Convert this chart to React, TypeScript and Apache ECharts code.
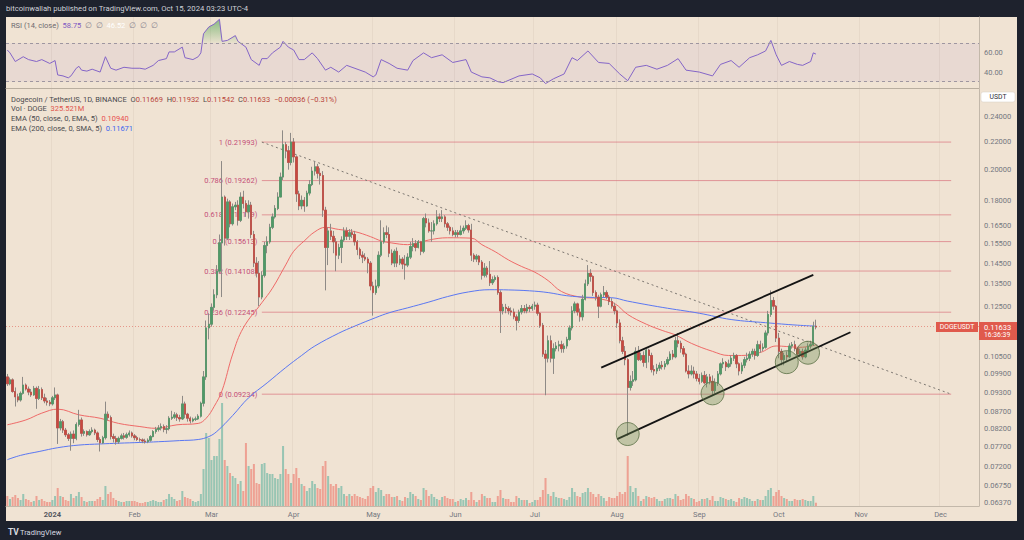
import React, { useEffect, useRef } from "react";
import * as echarts from "echarts";

// ---------- DATA (prices in 1/10000 USDT) ----------
const FIRST_OPEN = 980;
const AXIS_START = [2023, 11, 15];
const AXIS_DAYS = 367;

// daily candles: [close, high, low]
const candlesDec23 = [[957,990,950],[970,978,952],[932,975,928],[915,945,885],[905,925,898],[926,932,900],[953,980,922],[940,958,935],[930,948,920],[921,940,915],[942,950,918],[910,948,878],[938,950,905],[912,945,905],[902,925,895],[898,912,888],[893,905,886]];
const candlesJan24 = [[912,918,888],[921,945,905],[822,925,778],[840,848,815],[816,845,808],[803,822,797],[793,808,786],[805,812,760],[793,815,780],[832,838,788],[845,875,826],[807,852,798],[812,818,800],[803,815,798],[812,818,800],[816,824,807],[808,820,802],[790,812,783],[781,796,758],[795,800,778],[862,900,790],[852,870,843],[798,858,790],[793,806,782],[784,800,776],[793,798,778],[800,806,790],[796,808,790],[803,809,792],[808,815,798],[800,812,795]];
const candlesFeb24 = [[795,805,788],[790,800,786],[789,795,784],[786,793,780],[784,792,779],[788,793,780],[798,802,784],[812,816,796],[818,825,806],[822,830,812],[826,835,815],[818,832,810],[820,830,806],[850,856,815],[853,872,845],[860,868,848],[852,866,842],[848,860,840],[893,918,845],[862,900,850],[850,866,840],[842,855,835],[847,852,838],[848,855,842],[856,862,845],[895,900,852],[980,1000,885],[1160,1190,970],[1175,1220,1115]];
const candlesMar24 = [[1245,1262,1165],[1300,1325,1232],[1410,1440,1285],[1555,1600,1400],[1820,2060,1290],[1580,1830,1540],[1790,1810,1570],[1660,1800,1640],[1760,1780,1650],[1770,1790,1740],[1680,1800,1650],[1820,1850,1670],[1780,1860,1750],[1730,1800,1700],[1770,1800,1690],[1600,1790,1580],[1450,1620,1430],[1400,1480,1380],[1290,1460,1250],[1390,1410,1280],[1540,1560,1380],[1560,1590,1500],[1640,1660,1550],[1700,1720,1630],[1750,1770,1690],[1820,1850,1740],[1950,1980,1820],[2180,2290,1930],[2135,2200,2080],[2050,2170,2000],[2200,2270,2030]];
const candlesApr24 = [[2090,2230,2050],[1840,2100,1790],[1765,1860,1740],[1800,1830,1745],[1765,1820,1730],[1845,1860,1760],[1900,1930,1830],[1990,2020,1890],[2020,2060,1960],[1975,2040,1940],[1960,2010,1900],[1740,1990,1700],[1530,1760,1320],[1620,1640,1440],[1590,1660,1570],[1560,1620,1500],[1490,1580,1410],[1530,1550,1470],[1570,1590,1450],[1620,1640,1560],[1590,1640,1570],[1610,1630,1570],[1600,1630,1580],[1560,1620,1540],[1520,1570,1490],[1490,1530,1470],[1480,1510,1450],[1470,1500,1460],[1450,1480,1400],[1340,1460,1320]];
const candlesMay24 = [[1310,1360,1210],[1340,1370,1300],[1490,1510,1330],[1560,1680,1480],[1610,1640,1550],[1600,1650,1580],[1500,1640,1480],[1450,1520,1440],[1510,1520,1430],[1450,1530,1430],[1470,1490,1440],[1445,1480,1420],[1440,1490,1370],[1480,1500,1430],[1535,1560,1470],[1550,1580,1510],[1530,1570,1510],[1560,1570,1525],[1510,1565,1490],[1690,1700,1500],[1665,1720,1640],[1620,1690,1610],[1620,1670,1560],[1660,1680,1600],[1700,1740,1650],[1690,1720,1670],[1700,1740,1670],[1660,1710,1640],[1640,1670,1620],[1620,1650,1600],[1600,1640,1590]];
const candlesJun24 = [[1610,1625,1585],[1600,1625,1585],[1620,1650,1595],[1635,1650,1605],[1650,1680,1625],[1625,1660,1610],[1490,1660,1460],[1470,1500,1455],[1485,1495,1455],[1455,1490,1440],[1390,1465,1370],[1425,1450,1380],[1395,1435,1380],[1355,1460,1340],[1370,1385,1345],[1380,1390,1360],[1310,1390,1300],[1230,1320,1140],[1245,1260,1215],[1240,1260,1220],[1230,1250,1215],[1225,1245,1210],[1205,1240,1195],[1190,1215,1150],[1225,1235,1180],[1240,1255,1215],[1230,1255,1220],[1245,1260,1220],[1240,1255,1225],[1250,1260,1230]];
const candlesJul24 = [[1255,1270,1235],[1220,1265,1210],[1170,1225,1160],[1060,1180,1050],[1045,1075,920],[1110,1130,1030],[1045,1130,1030],[1080,1100,990],[1090,1105,1070],[1095,1110,1070],[1080,1110,1065],[1090,1100,1065],[1115,1125,1080],[1160,1170,1110],[1230,1250,1150],[1260,1270,1220],[1225,1265,1210],[1205,1240,1185],[1280,1300,1190],[1350,1370,1275],[1400,1440,1340],[1385,1420,1360],[1310,1390,1295],[1290,1320,1275],[1250,1300,1200],[1300,1310,1245],[1310,1340,1290],[1290,1320,1280],[1270,1300,1255],[1250,1285,1240],[1230,1265,1215]];
const candlesAug24 = [[1180,1235,1160],[1110,1195,1100],[1070,1125,1060],[1040,1090,1020],[945,1045,800],[965,985,935],[970,1000,950],[1070,1085,965],[1040,1090,1035],[1055,1065,1035],[1030,1070,1015],[1075,1080,1010],[1055,1080,1030],[1005,1065,995],[1000,1020,985],[1010,1025,990],[1020,1030,1000],[1015,1035,1005],[1025,1035,1005],[1040,1050,1020],[1060,1070,1035],[1050,1075,1040],[1110,1125,1045],[1100,1140,1085],[1080,1110,1065],[1060,1090,1050],[1000,1065,995],[990,1020,975],[1000,1020,985],[990,1015,975],[975,1000,965]];
const candlesSep24 = [[965,990,955],[985,995,960],[960,1000,955],[980,990,945],[965,990,955],[935,985,918],[960,975,925],[990,1000,950],[1025,1030,985],[1030,1045,1010],[1015,1035,1000],[1025,1040,1010],[1045,1055,1015],[1055,1065,1035],[1025,1060,1010],[1000,1030,985],[1020,1030,990],[1040,1050,1010],[1045,1065,1030],[1060,1070,1035],[1070,1080,1050],[1055,1080,1040],[1095,1110,1050],[1080,1110,1065],[1085,1100,1070],[1140,1150,1080],[1215,1230,1130],[1275,1320,1205],[1250,1290,1235],[1120,1255,1105]];
const candlesOct24 = [[1070,1140,1045],[1040,1080,1020],[1055,1065,1020],[1050,1070,1035],[1090,1100,1045],[1095,1105,1080],[1080,1110,1070],[1060,1085,1050],[1070,1080,1050],[1050,1080,1040],[1075,1085,1045],[1090,1100,1065],[1095,1110,1080],[1166.9,1185,1090],[1163.3,1193.2,1154.2]];

// daily volume, in hundreds of millions of DOGE
const volumeDec23 = [10,7,9,11,8,6,12,7,6,4,5,10,6,7,5,4,4];
const volumeJan24 = [6,10,18,10,9,6,5,12,8,10,14,9,5,4,5,5,5,7,9,6,20,12,14,8,6,5,4,4,5,5,5];
const volumeFeb24 = [5,4,3,3,4,4,5,6,5,4,4,6,7,12,9,7,5,6,15,9,8,7,5,4,5,12,37,73,68];
const volumeMar24 = [46,50,50,67,103,46,40,33,30,28,22,25,15,63,40,37,42,23,22,42,43,33,32,32,28,27,32,60,37,32,23];
const volumeApr24 = [32,38,28,22,20,15,18,25,22,18,17,40,45,30,22,20,22,18,20,12,10,12,10,12,10,9,8,7,10,18];
const volumeMay24 = [20,14,18,16,10,12,12,9,9,10,6,5,9,8,14,12,10,7,6,18,16,10,12,9,7,6,9,10,8,7,7];
const volumeJun24 = [4,5,7,6,8,6,14,6,4,6,12,10,8,8,4,4,10,16,8,7,7,4,4,10,8,6,6,6,3,4];
const volumeJul24 = [6,6,9,16,28,12,10,14,9,8,8,7,6,9,18,14,10,9,13,14,18,14,12,9,12,10,8,5,9,8,8];
const volumeAug24 = [10,14,12,14,50,20,14,18,10,5,7,10,9,8,9,7,5,5,7,8,8,7,12,10,6,7,12,10,8,7,4];
const volumeSep24 = [5,7,7,8,6,10,5,5,9,8,7,6,7,5,4,8,7,9,8,7,5,5,7,6,6,10,16,18,10,14];
const volumeOct24 = [16,10,8,7,5,5,7,6,6,7,6,5,5,10,3.26];

// EMA 50 (read points)
const ema50Dates = ["2023-12-15","2023-12-22","2023-12-28","2024-01-03","2024-01-11","2024-01-19","2024-01-26","2024-02-03","2024-02-09","2024-02-17","2024-02-25","2024-02-28","2024-03-02","2024-03-05","2024-03-09","2024-03-13","2024-03-20","2024-03-24","2024-03-29","2024-04-01","2024-04-05","2024-04-09","2024-04-13","2024-04-18","2024-04-24","2024-04-30","2024-05-04","2024-05-08","2024-05-14","2024-05-22","2024-05-29","2024-06-07","2024-06-11","2024-06-16","2024-06-21","2024-06-26","2024-07-01","2024-07-06","2024-07-11","2024-07-18","2024-07-25","2024-07-31","2024-08-05","2024-08-12","2024-08-18","2024-08-23","2024-08-29","2024-09-06","2024-09-12","2024-09-17","2024-09-24","2024-09-30","2024-10-04","2024-10-09","2024-10-15"];
const ema50Values = [0.0831,0.0845,0.0865,0.0877,0.0860,0.0850,0.0835,0.0826,0.0821,0.0831,0.0835,0.0850,0.0885,0.0935,0.1060,0.1160,0.1265,0.1330,0.1441,0.1510,0.1565,0.1615,0.1640,0.1628,0.1616,0.1588,0.1565,0.1554,0.1545,0.1570,0.1582,0.1580,0.1545,0.1508,0.1466,0.1433,0.1405,0.1365,0.1315,0.1290,0.1283,0.1262,0.1215,0.1175,0.1150,0.1132,0.1100,0.1070,0.1055,0.1055,0.1066,0.1090,0.1088,0.1085,0.1094];

// EMA 200 line (SMA 5 smoothing) (read points)
const ma200Dates = ["2023-12-15","2023-12-20","2023-12-27","2024-01-03","2024-01-11","2024-01-19","2024-01-26","2024-02-03","2024-02-10","2024-02-18","2024-02-25","2024-02-29","2024-03-03","2024-03-09","2024-03-15","2024-03-22","2024-03-29","2024-04-04","2024-04-09","2024-04-18","2024-04-24","2024-05-02","2024-05-07","2024-05-14","2024-05-22","2024-05-29","2024-06-06","2024-06-14","2024-06-21","2024-06-29","2024-07-06","2024-07-13","2024-07-21","2024-07-30","2024-08-05","2024-08-18","2024-09-01","2024-09-13","2024-09-26","2024-10-08","2024-10-15"];
const ma200Values = [0.0737,0.0748,0.0758,0.0768,0.0775,0.0778,0.0780,0.0782,0.0784,0.0787,0.0790,0.0798,0.0812,0.0858,0.0912,0.0960,0.1012,0.1055,0.1090,0.1139,0.1167,0.1202,0.1222,0.1243,0.1268,0.1292,0.1313,0.1323,0.1322,0.1318,0.1310,0.1296,0.1289,0.1287,0.1272,0.1245,0.1220,0.1194,0.1181,0.1171,0.1167];

// RSI 14 (read points)
const rsiDates = ["2023-12-15","2023-12-16","2023-12-18","2023-12-21","2023-12-23","2023-12-26","2023-12-28","2023-12-31","2024-01-02","2024-01-03","2024-01-05","2024-01-07","2024-01-08","2024-01-10","2024-01-11","2024-01-12","2024-01-14","2024-01-16","2024-01-19","2024-01-21","2024-01-23","2024-01-25","2024-01-28","2024-01-31","2024-02-03","2024-02-05","2024-02-08","2024-02-10","2024-02-13","2024-02-14","2024-02-16","2024-02-19","2024-02-20","2024-02-23","2024-02-25","2024-02-26","2024-02-27","2024-02-29","2024-03-02","2024-03-04","2024-03-05","2024-03-07","2024-03-10","2024-03-11","2024-03-14","2024-03-16","2024-03-19","2024-03-20","2024-03-22","2024-03-24","2024-03-27","2024-03-28","2024-03-30","2024-04-01","2024-04-03","2024-04-05","2024-04-08","2024-04-10","2024-04-13","2024-04-15","2024-04-18","2024-04-21","2024-04-23","2024-04-26","2024-04-28","2024-05-01","2024-05-02","2024-05-04","2024-05-07","2024-05-10","2024-05-14","2024-05-16","2024-05-20","2024-05-23","2024-05-27","2024-05-31","2024-06-05","2024-06-07","2024-06-11","2024-06-14","2024-06-17","2024-06-19","2024-06-25","2024-06-30","2024-07-03","2024-07-05","2024-07-08","2024-07-12","2024-07-15","2024-07-17","2024-07-21","2024-07-25","2024-07-29","2024-08-02","2024-08-05","2024-08-08","2024-08-12","2024-08-16","2024-08-20","2024-08-24","2024-08-27","2024-09-01","2024-09-06","2024-09-09","2024-09-13","2024-09-16","2024-09-20","2024-09-23","2024-09-26","2024-09-28","2024-09-30","2024-10-02","2024-10-05","2024-10-08","2024-10-10","2024-10-13","2024-10-14","2024-10-15"];
const rsiValues = [63,60,51,56,53,51,53,49,52,37,36,34,36,44,46,42,41,43,40,56,44,42,45,44,44,43,47,52,54,61,61,66,55,53,56,60,80,87,90,95,72,73,78,72,66,53,47,54,54,60,66,72,66,63,53,53,60,54,42,45,40,47,45,42,40,35,37,53,49,44,42,52,60,55,58,50,53,40,35,34,30,29,36,38,34,28,33,38,55,52,62,50,49,38,31,45,47,43,47,54,42,40,36,48,52,45,55,58,62,73,58,47,51,48,47,51,60,58.75];

// Fibonacci retracement
const fibLevels = [1, 0.786, 0.618, 0.5, 0.382, 0.236, 0];
const fibPrices = [0.21993, 0.19262, 0.17119, 0.15613, 0.14108, 0.12245, 0.09234];
const fibDates = ["2024-03-20", "2024-12-05"];

// drawn annotations (date, price)
const channelUpper = [["2024-07-26", 0.1012], ["2024-10-14", 0.1392]];
const channelLower = [["2024-08-01", 0.0791], ["2024-10-28", 0.1143]];
const touchCircles = [["2024-08-05", 0.0805], ["2024-09-06", 0.0926], ["2024-10-04", 0.1031], ["2024-10-12", 0.1065]];

const priceTicks = [0.24, 0.22, 0.2, 0.18, 0.165, 0.155, 0.145, 0.135, 0.125, 0.105, 0.099, 0.093, 0.087, 0.082, 0.077, 0.072, 0.0675, 0.0637];
const rsiTicks = [40, 60];
const LAST_PRICE = 0.11633;

// ---------- STYLE ----------
const FONT = "Roboto, 'Liberation Sans', Arial, sans-serif";
const FS = 7.5;
const UP = "#4f9a67";
const DOWN = "#c9483f";
const WICK = "#8e8a86";
const VOL_UP = "rgba(64,168,148,0.5)";
const VOL_DOWN = "rgba(236,96,84,0.5)";
const CREAM = "#f0e3d3";
const AXIS_TXT = "#74777f";
const LN_TOP = -1.33176;
const LN_BOTTOM = -2.76722;
const MONTHS = ["Jan","Feb","Mar","Apr","May","Jun","Jul","Aug","Sep","Oct","Nov","Dec"];

const ln = Math.log;

function buildDates() {
  const out: string[] = [];
  for (let i = 0; i < AXIS_DAYS; i++) {
    const d = new Date(Date.UTC(AXIS_START[0], AXIS_START[1], AXIS_START[2] + i));
    out.push(d.toISOString().slice(0, 10));
  }
  return out;
}

function buildOption() {
  const dates = buildDates();
  const chl = [candlesDec23, candlesJan24, candlesFeb24, candlesMar24, candlesApr24, candlesMay24, candlesJun24, candlesJul24, candlesAug24, candlesSep24, candlesOct24].flat();
  const vols = [volumeDec23, volumeJan24, volumeFeb24, volumeMar24, volumeApr24, volumeMay24, volumeJun24, volumeJul24, volumeAug24, volumeSep24, volumeOct24].flat();
  const k = 10000;
  const wick: number[][] = [];
  const body: number[][] = [];
  const volData: any[] = [];
  chl.forEach(([c, h, l], i) => {
    const o = i === 0 ? FIRST_OPEN : chl[i - 1][0];
    const hi = Math.max(h, o, c), lo = Math.min(l, o, c);
    wick.push([ln(o / k), ln(c / k), ln(lo / k), ln(hi / k)]);
    body.push([ln(o / k), ln(c / k), ln(Math.min(o, c) / k), ln(Math.max(o, c) / k)]);
    volData.push({ value: vols[i], itemStyle: { color: c >= o ? VOL_UP : VOL_DOWN } });
  });

  const monthStart = (_: number, v: string) => v.slice(8) === "01";
  const xBase = { type: "category", data: dates, boundaryGap: true, axisTick: { show: false } };

  const fibSeries = fibLevels.map((lv, j) => ({
    type: "line",
    xAxisIndex: 1, yAxisIndex: 1, z: 1,
    silent: true,
    symbol: "circle", symbolSize: 1, showSymbol: true,
    itemStyle: { color: "rgba(0,0,0,0)" },
    lineStyle: { color: "rgba(214,96,112,0.6)", width: 1 },
    data: [
      { value: [fibDates[0], ln(fibPrices[j])], label: { show: true, position: "left", distance: 4, formatter: `${lv} (${fibPrices[j].toFixed(5)})`, color: "#c44f78", fontSize: FS, fontFamily: FONT } },
      { value: [fibDates[1], ln(fibPrices[j])] },
    ],
  }));

  return {
    animation: false,
    backgroundColor: "transparent",
    textStyle: { fontFamily: FONT },
    grid: [
      { left: 6, top: 17, width: 973, height: 71 },
      { left: 6, top: 89, width: 973, height: 417 },
      { left: 6, top: 386, width: 973, height: 120 },
    ],
    xAxis: [
      { ...xBase, gridIndex: 0, axisLabel: { show: false }, axisLine: { show: true, lineStyle: { color: "#b9ae9f" } }, splitLine: { show: true, interval: monthStart, lineStyle: { color: "rgba(110,90,70,0.07)" } } },
      { ...xBase, gridIndex: 1, axisLine: { show: true, lineStyle: { color: "#c3b8aa" } },
        splitLine: { show: true, interval: monthStart, lineStyle: { color: "rgba(110,90,70,0.07)" } },
        axisLabel: { interval: monthStart, margin: 4, fontSize: FS, color: AXIS_TXT, fontFamily: FONT,
          formatter: (v: string) => { const m = +v.slice(5, 7); return m === 1 ? `{y|${v.slice(0, 4)}}` : MONTHS[m - 1]; },
          rich: { y: { fontWeight: "bold", fontSize: FS, color: "#55585f", fontFamily: FONT } } } },
      { ...xBase, gridIndex: 2, show: false },
    ],
    yAxis: [
      { gridIndex: 0, type: "value", position: "right", min: 23.4, max: 97.4, splitLine: { show: false },
        axisLine: { show: true, lineStyle: { color: "#c3b8aa" } }, axisTick: { show: false },
        axisLabel: { customValues: rsiTicks, formatter: (v: number) => v.toFixed(2), fontSize: FS, color: AXIS_TXT, margin: 5, fontFamily: FONT } },
      { gridIndex: 1, type: "value", position: "right", min: LN_BOTTOM, max: LN_TOP, splitLine: { show: false },
        axisLine: { show: true, lineStyle: { color: "#c3b8aa" } }, axisTick: { show: false },
        axisLabel: { customValues: priceTicks.map((p) => ln(p)), formatter: (v: number) => Math.exp(v).toFixed(5), fontSize: FS, color: AXIS_TXT, margin: 5, fontFamily: FONT } },
      { gridIndex: 2, type: "value", min: 0, max: 120, show: false },
    ],
    series: [
      // RSI
      {
        type: "line", xAxisIndex: 0, yAxisIndex: 0, silent: true, z: 3,
        data: rsiDates.map((d, i) => [d, Math.max(rsiValues[i], 70)]),
        symbol: "none", lineStyle: { width: 0 },
        areaStyle: { origin: 70, color: new echarts.graphic.LinearGradient(0, 0, 0, 1, [{ offset: 0, color: "rgba(67,160,71,0.85)" }, { offset: 1, color: "rgba(67,160,71,0.05)" }]) },
      },
      {
        type: "line", xAxisIndex: 0, yAxisIndex: 0, silent: true, z: 4,
        data: rsiDates.map((d, i) => [d, rsiValues[i]]),
        symbol: "none", lineStyle: { color: "#8465c7", width: 1 },
        markArea: { silent: true, itemStyle: { color: "rgba(126,87,194,0.07)" }, data: [[{ yAxis: 30 }, { yAxis: 70 }]] },
        markLine: { silent: true, symbol: "none", label: { show: false }, lineStyle: { color: "#9e96a0", type: [3, 3], width: 1 }, data: [{ yAxis: 70 }, { yAxis: 30 }] },
      },
      // volume
      { type: "bar", xAxisIndex: 2, yAxisIndex: 2, barWidth: 2, silent: true, z: 1, data: volData },
      // fib
      ...fibSeries,
      // trend line (dotted)
      {
        type: "line", xAxisIndex: 1, yAxisIndex: 1, silent: true, z: 2, symbol: "none",
        lineStyle: { color: "#7b7670", width: 1, type: [2, 3] },
        data: [[fibDates[0], ln(fibPrices[0])], [fibDates[1], ln(fibPrices[fibPrices.length - 1])]],
      },
      // moving averages
      { type: "line", xAxisIndex: 1, yAxisIndex: 1, silent: true, z: 3, symbol: "none", smooth: 0.4, lineStyle: { color: "#ee6a68", width: 1 }, data: ema50Dates.map((d, i) => [d, ln(ema50Values[i])]) },
      { type: "line", xAxisIndex: 1, yAxisIndex: 1, silent: true, z: 3, symbol: "none", smooth: 0.4, lineStyle: { color: "#5a77f2", width: 1 }, data: ma200Dates.map((d, i) => [d, ln(ma200Values[i])]) },
      // candles: wicks then bodies
      { type: "candlestick", xAxisIndex: 1, yAxisIndex: 1, silent: true, z: 5, barWidth: 1.9,
        itemStyle: { color: WICK, color0: WICK, borderColor: WICK, borderColor0: WICK, borderWidth: 1 }, data: wick },
      { type: "candlestick", xAxisIndex: 1, yAxisIndex: 1, silent: true, z: 6, barWidth: 1.9,
        itemStyle: { color: UP, color0: DOWN, borderColor: UP, borderColor0: DOWN, borderWidth: 0.6 }, data: body,
        markLine: { silent: true, symbol: "none", label: { show: false }, lineStyle: { color: "rgba(222,90,78,0.55)", type: [1, 2], width: 1 }, data: [{ yAxis: ln(LAST_PRICE) }] } },
      // channel
      { type: "line", xAxisIndex: 1, yAxisIndex: 1, silent: true, z: 7, symbol: "none", lineStyle: { color: "#141414", width: 1.8 }, data: channelUpper.map(([d, p]) => [d, ln(p as number)]) },
      { type: "line", xAxisIndex: 1, yAxisIndex: 1, silent: true, z: 7, symbol: "none", lineStyle: { color: "#141414", width: 1.8 }, data: channelLower.map(([d, p]) => [d, ln(p as number)]) },
      // touch circles
      { type: "scatter", xAxisIndex: 1, yAxisIndex: 1, silent: true, z: 8, symbolSize: 23,
        itemStyle: { color: "rgba(112,140,84,0.45)", borderColor: "#5b7046", borderWidth: 1 },
        data: touchCircles.map(([d, p]) => [d, ln(p as number)]) },
    ],
  };
}

function staticGraphics() {
  const t = (id: string, x: number, y: number, text: string, fill: string, size = FS, extra: any = {}) => ({
    id, type: "text", x, y, silent: true, z: 50,
    style: { text, fill, fontSize: size, fontFamily: FONT, verticalAlign: "middle", ...extra },
  });
  const rt = (id: string, x: number, y: number, text: string, rich: any) => ({
    id, type: "text", x, y, silent: true, z: 50,
    style: { text, fontSize: FS, fontFamily: FONT, verticalAlign: "middle", rich },
  });
  const c = (fill: string) => ({ fill, fontSize: FS, fontFamily: FONT });
  return [
    { id: "bg", type: "rect", silent: true, z: -10, shape: { x: 6, y: 17, width: 1011, height: 504 }, style: { fill: CREAM } },
    t("hdr", 6, 8, "bitcoinwallah published on TradingView.com, Oct 15, 2024 03:23 UTC-4", "#cfd1d8", 7.7),
    rt("rsiLeg", 11, 25, "{a|RSI (14, close)}  {b|58.75}  {c|\u2205  \u2205}  {d|46.52}  {c|\u2205  \u2205  \u2205}",
      { a: c("#6e6a70"), b: c("#7e57c2"), c: c("#8a8690"), d: c("#ffffff") }),
    rt("leg1", 11, 99, "{t|Dogecoin / TetherUS, 1D, BINANCE}  {k|O}{v|0.11669}  {k|H}{v|0.11932}  {k|L}{v|0.11542}  {k|C}{v|0.11633}  {v|\u22120.00036 (\u22120.31%)}",
      { t: c("#4a4a4e"), k: c("#4a4a4e"), v: c("#b8443c") }),
    rt("leg2", 11, 108.7, "{t|Vol \u00b7 DOGE}  {v|325.521M}", { t: c("#4a4a4e"), v: c("#e0554b") }),
    rt("leg3", 11, 118.5, "{t|EMA (50, close, 0, EMA, 5)}  {v|0.10940}", { t: c("#4a4a4e"), v: c("#e8514f") }),
    rt("leg4", 11, 128.3, "{t|EMA (200, close, 0, SMA, 5)}  {v|0.11671}", { t: c("#4a4a4e"), v: c("#3d64f0") }),
    { id: "usdtBox", type: "rect", silent: true, z: 50, shape: { x: 981, y: 92, width: 34, height: 10, r: 2 }, style: { fill: "#ffffff", stroke: "#d6cdc2", lineWidth: 0.5 } },
    t("usdtTxt", 998, 97, "USDT", "#2e2e33", 6.8, { align: "center" }),
    t("tvLogo", 8, 532, "TV", "#d8dae0", 8.5, { fontWeight: "bold" }),
    t("tvName", 20, 532, "TradingView", "#d8dae0", 7.5),
  ];
}

function badgeGraphics(py: number) {
  return [
    { id: "symBox", type: "rect", silent: true, z: 60, shape: { x: 936, y: py - 5, width: 42, height: 10 }, style: { fill: "#e05a4c" } },
    { id: "symTxt", type: "text", silent: true, z: 61, x: 957, y: py, style: { text: "DOGEUSDT", fill: "#ffffff", fontSize: 6.8, fontFamily: FONT, align: "center", verticalAlign: "middle" } },
    { id: "pxBox", type: "rect", silent: true, z: 60, shape: { x: 979, y: py - 5, width: 38, height: 18 }, style: { fill: "#e05a4c" } },
    { id: "pxTxt", type: "text", silent: true, z: 61, x: 984, y: py, style: { text: "0.11633", fill: "#ffffff", fontSize: FS, fontFamily: FONT, verticalAlign: "middle" } },
    { id: "pxTime", type: "text", silent: true, z: 61, x: 984, y: py + 8, style: { text: "16:36:39", fill: "#ffffff", fontSize: 6.8, fontFamily: FONT, verticalAlign: "middle" } },
  ];
}

export default function App() {
  const ref = useRef<HTMLDivElement>(null);
  useEffect(() => {
    if (!ref.current) return;
    const chart = echarts.init(ref.current, null, { renderer: "svg" });
    const opt: any = buildOption();
    opt.graphic = { elements: staticGraphics() };
    chart.setOption(opt);
    const py = chart.convertToPixel({ yAxisIndex: 1 }, ln(LAST_PRICE)) as number;
    chart.setOption({ graphic: { elements: badgeGraphics(py) } });
    return () => chart.dispose();
  }, []);
  return (
    <div style={{ position: "fixed", left: 0, top: 0, width: 1024, height: 540, background: "#1e222d" }}>
      <div ref={ref} style={{ width: 1024, height: 540 }} />
    </div>
  );
}
